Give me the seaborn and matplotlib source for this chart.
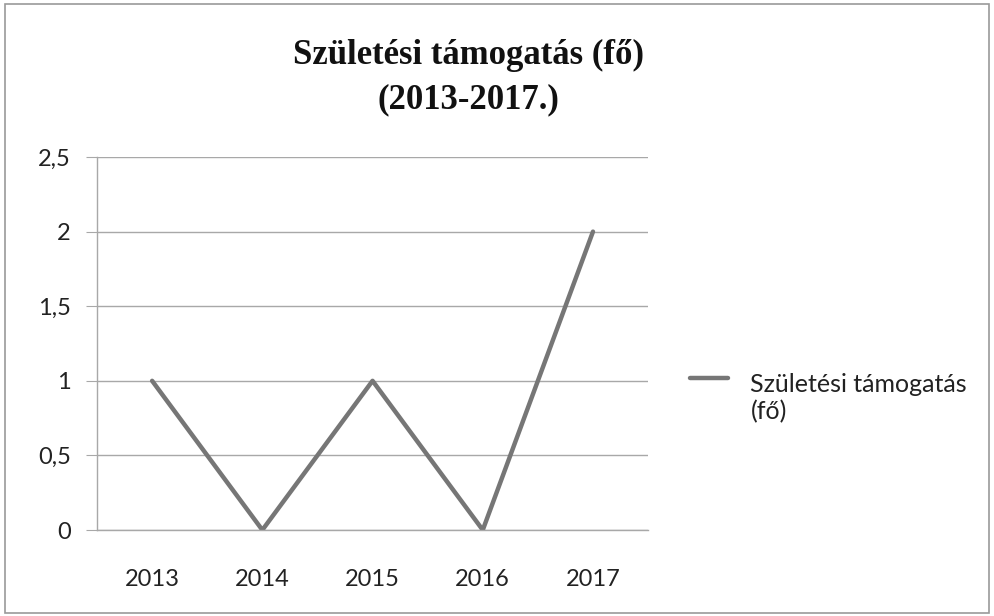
import matplotlib
matplotlib.use("Agg")
import matplotlib.pyplot as plt
from matplotlib.ticker import FuncFormatter, FixedLocator
from matplotlib.patches import Rectangle
import seaborn as sns
import pandas as pd

years = ["2013", "2014", "2015", "2016", "2017"]
values = [1, 0, 1, 0, 2]
series_name = "Születési támogatás\n(fő)"
title = "Születési támogatás (fő)\n(2013-2017.)"
y_ticks = [0, 0.5, 1, 1.5, 2, 2.5]

df = pd.DataFrame({"year": years, "value": values, "series": series_name})

sns.set_style("white")
plt.rcParams["font.family"] = ["Lato", "DejaVu Sans"]

fig = plt.figure(figsize=(9.94, 6.16), dpi=100)
ax = fig.add_axes([0.0976, 0.1396, 0.5544, 0.6055])

sns.lineplot(data=df, x="year", y="value", hue="series", palette=["#767676"],
             linewidth=3.2, ax=ax, sort=False)

ax.set_xlim(-0.5, 4.5)
ax.set_ylim(0, 2.5)
ax.set_yticks(y_ticks)
ax.yaxis.set_major_formatter(FuncFormatter(lambda v, p: ("%g" % v).replace(".", ",")))
ax.grid(axis="y", color="#a8a8a8", linewidth=1.0)
ax.set_axisbelow(True)
ax.set_xlabel("")
ax.set_ylabel("")

for s in ["top", "right"]:
    ax.spines[s].set_visible(False)
for s in ["left", "bottom"]:
    ax.spines[s].set_color("#a8a8a8")
    ax.spines[s].set_linewidth(1.0)

ax.tick_params(axis="x", which="major", length=0, pad=28, labelsize=17, labelcolor="#222222")
ax.xaxis.set_minor_locator(FixedLocator([-0.5, 0.5, 1.5, 2.5, 3.5, 4.5]))
ax.tick_params(axis="x", which="minor", length=6, color="#a8a8a8", direction="out")
ax.tick_params(axis="y", length=8, color="#a8a8a8", pad=11, labelsize=17,
               labelcolor="#222222", left=True)

fig.text(0.471, 0.874, title, ha="center", va="center", fontsize=25,
         fontweight="bold", family="Liberation Serif", linespacing=1.45, color="#111111")

leg = ax.legend(loc="center left", bbox_to_anchor=(1.036, 0.41), frameon=False,
                fontsize=18, handlelength=1.5, handletextpad=0.9)
for t in leg.get_texts():
    t.set_color("#222222")
    t.set_va("center")

fig.add_artist(Rectangle((0.005, 0.005), 0.99, 0.988, transform=fig.transFigure,
                         fill=False, edgecolor="#9a9a9a", linewidth=1.2))

fig.savefig("out.png", dpi=100)
